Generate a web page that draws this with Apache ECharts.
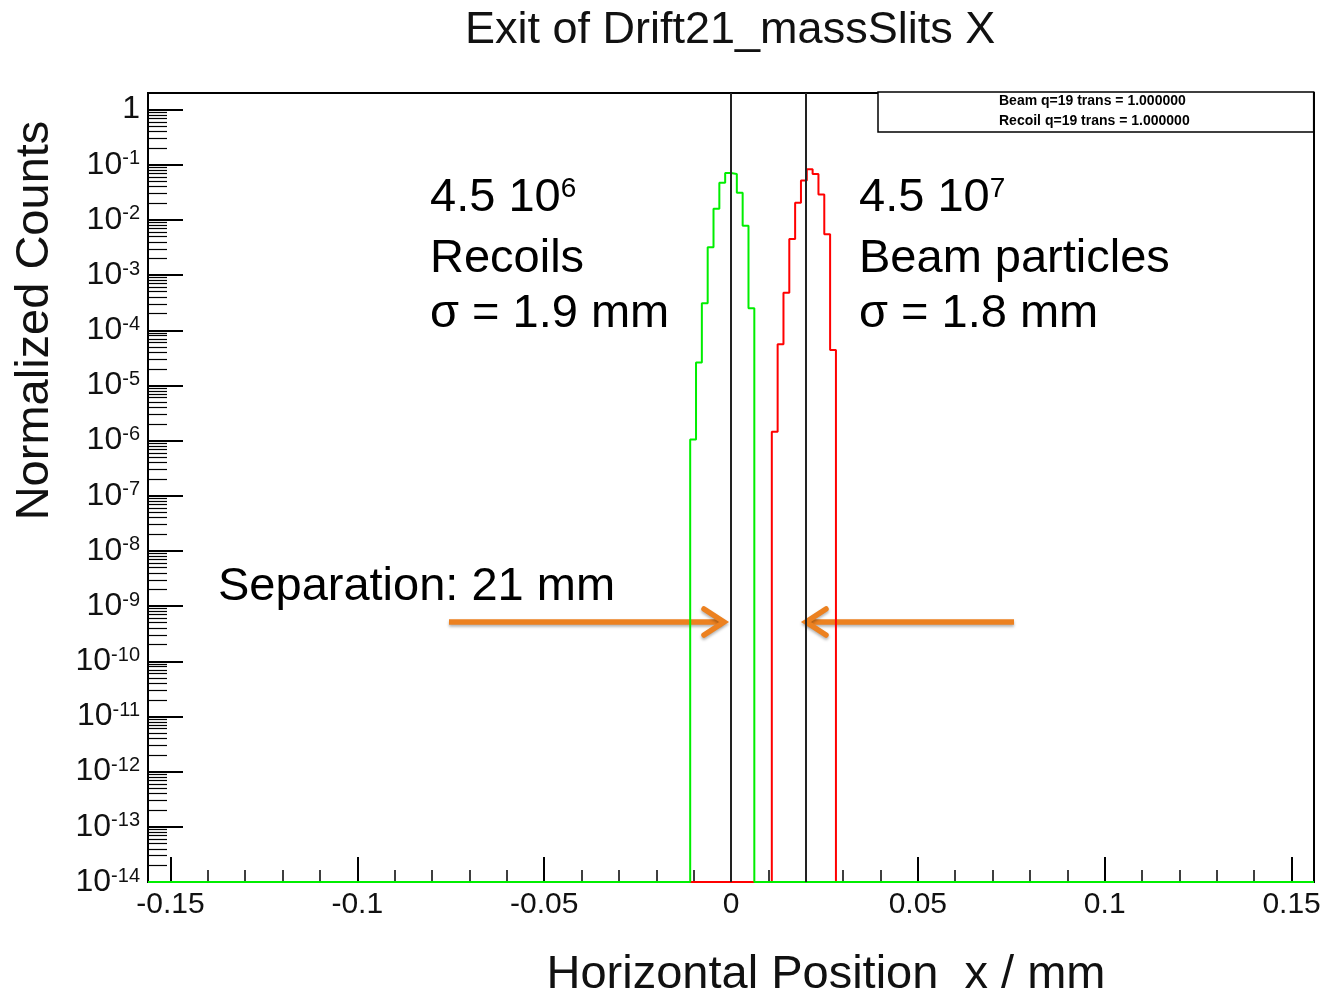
<!DOCTYPE html>
<html><head><meta charset="utf-8">
<script src="https://cdn.jsdelivr.net/npm/echarts@6/dist/echarts.min.js"></script>
<style>html,body{margin:0;padding:0;background:#fff}#c{width:1326px;height:997px}</style>
</head><body><div id="c"></div>
<script>
// ---- data ----
const xRange = [-0.156, 0.156];
const yExpRange = [-14, 0.3];                 // log10 of normalized counts
const xMajorTicks = [-0.15, -0.1, -0.05, 0, 0.05, 0.1, 0.15];
const yMajorExps = [-14, -13, -12, -11, -10, -9, -8, -7, -6, -5, -4, -3, -2, -1, 0];

// Recoils (green) histogram: bin edges and normalized counts
const recoilEdges  = [-0.01092, -0.00936, -0.0078, -0.00624, -0.00468, -0.00312, -0.00156, 0, 0.00156, 0.00312, 0.00468, 0.00624];
const recoilCounts = [1.05e-6, 2.6e-5, 3.1e-4, 3.2e-3, 0.016, 0.047, 0.071, 0.068, 0.031, 0.0078, 2.5e-4];

// Beam (red) histogram
const beamEdges  = [0.01092, 0.01248, 0.01404, 0.0156, 0.01716, 0.01872, 0.02028, 0.02184, 0.0234, 0.02496, 0.02652, 0.02808];
const beamCounts = [1.45e-6, 5.6e-5, 4.8e-4, 4.5e-3, 0.0204, 0.052, 0.083, 0.068, 0.029, 0.0055, 4.4e-5];

// vertical reference lines (peak centres)
const centreLines = [0, 0.0214];

const legendNames = ['Beam q=19 trans = 1.000000', 'Recoil q=19 trans = 1.000000'];

// ---- helpers ----
const FONT = 'Liberation Sans, Arial, Helvetica, sans-serif';
function histPoints(edges, counts) {
  const pts = [[xRange[0], yExpRange[0]]];
  counts.forEach((c, i) => pts.push([edges[i], c > 0 ? Math.log10(c) : yExpRange[0]]));
  pts.push([edges[edges.length - 1], yExpRange[0]]);
  pts.push([xRange[1], yExpRange[0]]);
  return pts;
}
const xMinorTicks = [];
for (let i = -15; i <= 15; i++) xMinorTicks.push(i / 100);
const yMinorExps = [];
for (let n = -14; n <= -1; n++) for (let k = 2; k <= 9; k++) yMinorExps.push(n + Math.log10(k));

const chart = echarts.init(document.getElementById('c'), null, {renderer: 'canvas'});
chart.setOption({
  animation: false,
  backgroundColor: '#fff',
  title: {
    text: 'Exit of Drift21_massSlits X',
    left: 460, top: 2,
    textStyle: {fontFamily: FONT, fontSize: 45, fontWeight: 'normal', color: '#111', lineHeight: 48}
  },
  legend: {
    data: legendNames,
    orient: 'vertical',
    left: 878, top: 92,
    padding: [2, 124, 3, 116],
    itemGap: 5,
    itemWidth: 0, itemHeight: 0,
    icon: 'rect',
    selectedMode: false,
    borderColor: '#000', borderWidth: 1.5,
    backgroundColor: '#fff',
    textStyle: {fontFamily: FONT, fontSize: 14, fontWeight: 'bold', color: '#000', lineHeight: 15}
  },
  grid: {left: 148, top: 93, width: 1166, height: 789, outerBoundsMode: 'none', containLabel: false,
    show: true, borderColor: '#000', borderWidth: 2, backgroundColor: 'transparent'},
  xAxis: [{
    type: 'value', min: xRange[0], max: xRange[1], position: 'bottom',
    axisLine: {show: false, onZero: false},
    splitLine: {show: false},
    axisTick: {show: true, inside: true, length: 25, customValues: xMajorTicks, lineStyle: {color: '#000', width: 2}},
    axisLabel: {customValues: xMajorTicks, formatter: v => String(v), fontFamily: FONT, fontSize: 30, color: '#111', margin: 8},
    name: 'Horizontal Position  x / mm',
    nameLocation: 'middle', nameGap: 68,
    nameTextStyle: {fontFamily: FONT, fontSize: 47, color: '#111', lineHeight: 50, padding: [0, 0, 0, 190]}
  }, {
    type: 'value', min: xRange[0], max: xRange[1], position: 'bottom', offset: 0,
    axisLine: {show: false, onZero: false}, splitLine: {show: false}, axisLabel: {show: false},
    axisTick: {show: true, inside: true, length: 12, customValues: xMinorTicks, lineStyle: {color: '#000', width: 1.5}}
  }],
  yAxis: [{
    type: 'value', min: yExpRange[0], max: yExpRange[1], position: 'left',
    axisLine: {show: false, onZero: false}, splitLine: {show: false},
    axisTick: {show: true, inside: true, length: 35, customValues: yMajorExps, lineStyle: {color: '#000', width: 2}},
    axisLabel: {
      customValues: yMajorExps,
      formatter: v => (Math.abs(v) < 1e-9 ? '1' : '10{s|' + Math.round(v) + '}'),
      fontFamily: FONT, fontSize: 32, color: '#111', margin: 8, lineHeight: 32,
      rich: {s: {fontFamily: FONT, fontSize: 20, color: '#111', lineHeight: 20, padding: [0, 0, 24, 0], verticalAlign: 'top'}}
    },
    name: 'Normalized Counts',
    nameLocation: 'middle', nameRotate: 90, nameGap: 88,
    nameTextStyle: {fontFamily: FONT, fontSize: 47, color: '#111', lineHeight: 50, padding: [0, 0, 0, 334]}
  }, {
    type: 'value', min: yExpRange[0], max: yExpRange[1], position: 'left', offset: 0,
    axisLine: {show: false, onZero: false}, splitLine: {show: false}, axisLabel: {show: false},
    axisTick: {show: true, inside: true, length: 19, customValues: yMinorExps, lineStyle: {color: '#000', width: 1.2}}
  }],
  series: [{
    name: legendNames[0], type: 'line', step: 'end', symbol: 'none', clip: false,
    xAxisIndex: 0, yAxisIndex: 0,
    data: histPoints(beamEdges, beamCounts),
    lineStyle: {color: '#ff0000', width: 2}, itemStyle: {color: '#ff0000'}, z: 3
  }, {
    name: legendNames[1], type: 'line', step: 'end', symbol: 'none', clip: false,
    xAxisIndex: 0, yAxisIndex: 0,
    data: histPoints(recoilEdges, recoilCounts),
    lineStyle: {color: '#00ee00', width: 2}, itemStyle: {color: '#00ee00'}, z: 4,
    markLine: {
      silent: true, symbol: ['none', 'none'], label: {show: false},
      lineStyle: {color: '#222', width: 2, type: 'solid'},
      data: centreLines.map(x => ({xAxis: x}))
    }
  }],
  graphic: [
    {type: 'text', left: 430, top: 175, style: {text: '4.5 10{s|6}', font: '47px ' + FONT, fill: '#000',
      rich: {s: {fontSize: 28, fontFamily: FONT, verticalAlign: 'top', lineHeight: 28, padding: [0, 0, 20, 0]}}}},
    {type: 'text', left: 430, top: 236, style: {text: 'Recoils', font: '47px ' + FONT, fill: '#000'}},
    {type: 'text', left: 430, top: 291, style: {text: 'σ = 1.9 mm', font: '47px ' + FONT, fill: '#000'}},
    {type: 'text', left: 859, top: 175, style: {text: '4.5 10{s|7}', font: '47px ' + FONT, fill: '#000',
      rich: {s: {fontSize: 28, fontFamily: FONT, verticalAlign: 'top', lineHeight: 28, padding: [0, 0, 20, 0]}}}},
    {type: 'text', left: 859, top: 236, style: {text: 'Beam particles', font: '47px ' + FONT, fill: '#000'}},
    {type: 'text', left: 859, top: 291, style: {text: 'σ = 1.8 mm', font: '47px ' + FONT, fill: '#000'}},
    {type: 'text', left: 218, top: 564, style: {text: 'Separation: 21 mm', font: '47px ' + FONT, fill: '#000'}},
    {type: 'group', children: [
      {type: 'polyline', shape: {points: [[449, 622], [722, 622]]},
        style: {stroke: '#ec8120', lineWidth: 5.5, shadowBlur: 3, shadowColor: 'rgba(0,0,0,0.3)', shadowOffsetY: 2}},
      {type: 'polyline', shape: {points: [[704, 609], [724, 622], [704, 635]]},
        style: {stroke: '#ec8120', lineWidth: 5.5, lineCap: 'round', lineJoin: 'miter', fill: null, shadowBlur: 3, shadowColor: 'rgba(0,0,0,0.3)', shadowOffsetY: 2}},
      {type: 'polyline', shape: {points: [[1014, 622], [807, 622]]},
        style: {stroke: '#ec8120', lineWidth: 5.5, shadowBlur: 3, shadowColor: 'rgba(0,0,0,0.3)', shadowOffsetY: 2}},
      {type: 'polyline', shape: {points: [[826, 609], [806, 622], [826, 635]]},
        style: {stroke: '#ec8120', lineWidth: 5.5, lineCap: 'round', lineJoin: 'miter', fill: null, shadowBlur: 3, shadowColor: 'rgba(0,0,0,0.3)', shadowOffsetY: 2}}
    ]}
  ]
});
</script>
</body></html>
